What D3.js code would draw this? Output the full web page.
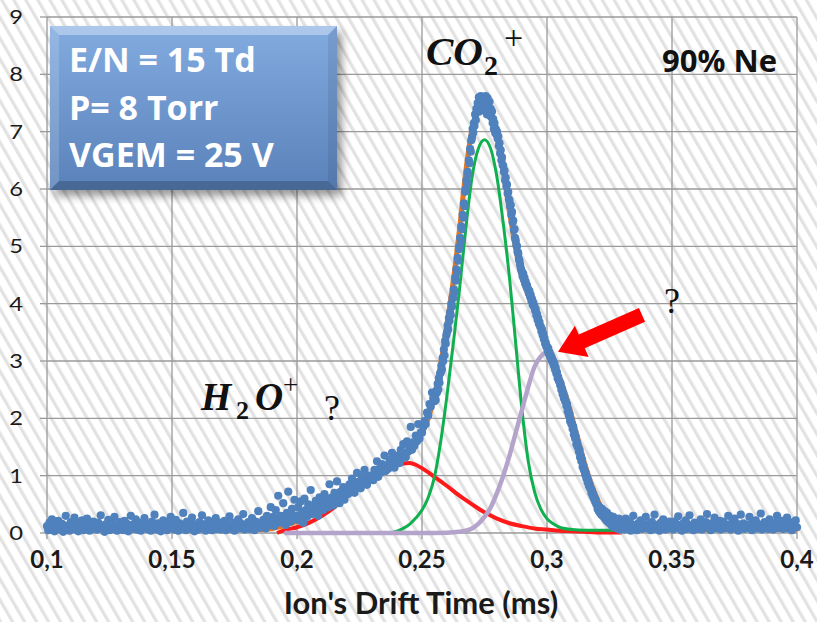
<!DOCTYPE html>
<html><head><meta charset="utf-8">
<script src="https://cdn.jsdelivr.net/npm/d3@7"></script>
<style>body{margin:0;background:#fff}svg{display:block}</style>
</head><body>
<svg id="c" width="817" height="622"></svg>
<script>
// ---------- data ----------
const xTicks = [0.1, 0.15, 0.2, 0.25, 0.3, 0.35, 0.4];
const xTickLabels = ["0,1", "0,15", "0,2", "0,25", "0,3", "0,35", "0,4"];
const yTicks = [0, 1, 2, 3, 4, 5, 6, 7, 8, 9];
const yTickLabels = ["0", "1", "2", "3", "4", "5", "6", "7", "8", "9"];

// measured points, in segments: [start x, step, values]
const blueBaseLeft = [
0.12,0.05,0.18,0.09,0.24,0.11,0.03,0.15,0.07,0.21,0.1,0.06,0.16,0.02,0.13,0.3,0.08,0.12,0.04,0.19,
0.09,0.14,0.27,0.06,0.11,0.03,0.17,0.1,0.22,0.05,0.13,0.08,0.25,0.12,0.04,0.16,0.07,0.2,0.1,0.14,
0.06,0.18,0.11,0.31,0.08,0.13,0.02,0.15,0.09,0.23,0.05,0.12,0.17,0.07,0.28,0.1,0.04,0.14,0.19,0.08,
0.13,0.05,0.21,0.1,0.16,0.03,0.12,0.3,0.07,0.15,0.09,0.24,0.06,0.11,0.18,0.04,0.14,0.08,0.26,0.1,
0.07,0.16,0.12,0.04,0.2,0.09,0.32,0.13,0.06,0.17,0.1,0.03,0.15,0.22,0.08,0.12,0.05,0.19,0.11,0.28,
0.09,0.14,0.06,0.23,0.11,0.04,0.17,0.08,0.13,0.35,0.1,0.05,0.2,0.12,0.07,0.16,0.27,0.09,0.03,0.15,
0.11,0.06,0.19,0.13,0.31,0.08,0.15,0.04,0.12,0.22,0.09,0.17,0.05,0.14,0.1,0.26,0.07,0.13,0.18,0.06,
0.14,0.09,0.21,0.05,0.16,0.11,0.29,0.07,0.13,0.18,0.04,0.15,0.1,0.24,0.08,0.17,0.12,0.33,0.06,0.14,
0.1,0.19,0.07,0.15,0.26,0.12,0.05,0.2,0.14,0.38,0.09,0.17,0.11,0.23,0.16,0.08,0.3,0.13,0.21,0.45];
const blueRise = [
0.15,0.28,0.12,0.4,0.22,0.65,0.18,0.3,0.2,0.52,0.25,0.14,0.35,0.72,0.27,0.2,0.42,0.3,0.58,0.24,
0.3,0.45,0.22,0.55,0.35,0.18,0.6,0.4,0.28,0.5,0.42,0.75,0.33,0.48,0.38,0.56,0.44,0.3,0.62,0.46,
0.52,0.4,0.68,0.5,0.6,0.45,0.85,0.55,0.62,0.48,0.7,0.58,0.9,0.6,0.52,0.72,0.64,0.8,0.58,0.7,
0.75,0.68,0.85,0.72,0.95,0.8,0.7,0.88,1.05,0.82,0.9,0.78,0.98,0.86,1.1,0.9,0.84,1.0,0.92,0.96,
1.0,0.92,1.1,1.02,1.25,0.98,1.12,1.05,1.2,1.1,1.35,1.08,1.18,1.12,1.28,1.15,1.4,1.2,1.14,1.3,
1.25,1.35,1.22,1.45,1.3,1.55,1.38,1.32,1.6,1.42,1.5,1.85,1.45,1.58,1.52,1.7,1.6,1.9,1.65,1.75,
1.75,1.85,1.95,1.9,2.1,2.05,2.25,2.2,2.45,2.35];
const bluePeak = [
2.3,2.38,2.32,2.48,2.45,2.6,2.5,2.7,2.62,2.78,
2.8,2.92,2.85,3.05,3.0,3.2,3.1,3.35,3.3,3.45,
3.5,3.62,3.55,3.75,3.7,3.85,3.8,4.0,3.95,4.1,
4.1,4.25,4.2,4.45,4.4,4.6,4.55,4.8,4.75,4.95,
5.0,5.15,5.1,5.35,5.3,5.55,5.5,5.75,5.7,5.95,
6.0,6.15,6.1,6.3,6.25,6.5,6.45,6.7,6.65,6.85,
6.9,7.05,6.98,7.15,7.1,7.3,7.2,7.4,7.35,7.5,
7.42,7.6,7.35,7.55,7.62,7.45,7.58,7.38,7.6,7.5,
7.55,7.4,7.62,7.48,7.3,7.58,7.45,7.35,7.52,7.28,
7.4,7.25,7.35,7.15,7.22,7.05,7.15,6.98,7.05,6.95,
7.0,6.88,6.92,6.75,6.8,6.62,6.68,6.5,6.55,6.42,
6.4,6.3,6.32,6.15,6.2,6.05,6.08,5.92,5.95,5.82,
5.8,5.7,5.72,5.55,5.6,5.42,5.45,5.28,5.3,5.15,
5.1,5.02,5.0,4.9,4.88,4.78,4.75,4.68,4.62,4.58,
4.55,4.48,4.52,4.42,4.45,4.35,4.38,4.3,4.32,4.25,
4.25,4.18,4.22,4.12,4.15,4.05,4.08,3.98,4.02,3.95,
3.95,3.88,3.9,3.8,3.82,3.72,3.75,3.65,3.68,3.6,
3.6,3.52,3.55,3.45,3.48,3.38,3.4,3.3,3.32,3.25,
3.25,3.18,3.22,3.12,3.15,3.08,3.1,3.02,3.05,2.98,
3.0,2.92,2.95,2.85,2.88,2.78,2.8,2.7,2.72,2.65,
2.65,2.58,2.6,2.5,2.52,2.42,2.45,2.35,2.38,2.3,
2.3,2.22,2.25,2.12,2.15,2.05,2.08,1.95,1.98,1.9,
1.9,1.82,1.85,1.72,1.75,1.65,1.68,1.55,1.58,1.5,
1.5,1.42,1.45,1.32,1.35,1.25,1.28,1.15,1.18,1.1,
1.1,1.02,1.05,0.95,0.98,0.88,0.92,0.82,0.85,0.78,
0.78,0.7,0.74,0.65,0.68,0.6,0.62,0.55,0.58,0.5,
0.5,0.42,0.48,0.38,0.45,0.35,0.4,0.32,0.42,0.3,
0.33,0.28,0.38,0.25,0.3,0.22,0.35,0.2,0.26,0.18,
0.22,0.3,0.15,0.25,0.12,0.2,0.28,0.1,0.18,0.14,
0.15,0.22,0.08,0.18,0.12,0.25,0.06,0.16,0.1,0.2];
const blueBaseRight = [
0.1,0.18,0.06,0.25,0.12,0.08,0.2,0.04,0.15,0.3,0.09,0.13,0.05,0.17,0.11,0.22,0.07,0.14,0.1,0.28,
0.08,0.15,0.12,0.05,0.19,0.1,0.32,0.07,0.14,0.11,0.04,0.18,0.09,0.24,0.13,0.06,0.16,0.1,0.2,0.08,
0.13,0.06,0.2,0.1,0.15,0.29,0.08,0.12,0.04,0.17,0.11,0.22,0.07,0.14,0.31,0.09,0.12,0.05,0.18,0.1,
0.07,0.16,0.11,0.24,0.06,0.13,0.09,0.19,0.33,0.1,0.14,0.05,0.17,0.12,0.27,0.08,0.15,0.11,0.21,0.06,
0.12,0.2,0.08,0.15,0.1,0.3,0.13,0.06,0.18,0.11,0.25,0.09,0.16,0.04,0.13,0.32,0.1,0.17,0.07,0.14,
0.09,0.14,0.28,0.1,0.05,0.17,0.12,0.22,0.08,0.15,0.11,0.34,0.06,0.13,0.19,0.1,0.16,0.07,0.24,0.12,
0.11,0.06,0.18,0.13,0.3,0.09,0.15,0.1,0.21,0.07,0.14,0.12,0.27,0.08,0.16,0.11,0.05,0.19,0.13,0.22,0.1];
const blueSegments = [
  {x0: 0.1, step: 0.0005, v: blueBaseLeft},
  {x0: 0.19, step: 0.0005, v: blueRise},
  {x0: 0.255, step: 0.00025, v: bluePeak},
  {x0: 0.33, step: 0.0005, v: blueBaseRight}];

// total fit (orange)
const fitX = [0.1,0.12,0.14,0.16,0.18,0.185,0.19,0.195,0.2,0.205,0.21,0.215,0.22,0.225,0.23,0.235,0.24,0.245,0.25,0.2525,0.255,0.2575,0.26,0.2625,0.265,0.2675,0.27,0.2725,0.275,0.2775,0.28,0.2825,0.285,0.2875,0.29,0.2925,0.295,0.2975,0.3,0.3025,0.305,0.3075,0.31,0.3125,0.315,0.3175,0.32,0.3225,0.325,0.3275,0.33,0.335,0.35,0.37,0.4];
const fitY = [0.06,0.06,0.06,0.06,0.06,0.06,0.08,0.13,0.2,0.3,0.42,0.56,0.72,0.86,1.0,1.12,1.25,1.42,1.75,2.0,2.4,2.95,3.65,4.4,5.3,6.3,7.05,7.35,7.45,7.3,6.9,6.3,5.6,4.95,4.45,4.15,3.88,3.58,3.25,3.02,2.72,2.4,2.02,1.62,1.22,0.88,0.6,0.38,0.22,0.12,0.07,0.06,0.06,0.06,0.06];

// H2O+ component (red)
const redX = [0.192,0.195,0.2,0.205,0.21,0.215,0.22,0.225,0.23,0.235,0.24,0.2425,0.245,0.2475,0.25,0.255,0.26,0.265,0.27,0.275,0.28,0.285,0.29,0.295,0.3,0.305,0.31,0.315,0.32,0.325,0.33];
const redY = [0.0,0.05,0.1,0.18,0.3,0.45,0.64,0.8,0.95,1.08,1.18,1.21,1.22,1.19,1.13,0.98,0.82,0.65,0.5,0.36,0.25,0.17,0.12,0.08,0.06,0.04,0.03,0.02,0.01,0.01,0.01];

// CO2+ component (green)
const greenX = [0.2375,0.24,0.2425,0.245,0.2475,0.25,0.2525,0.255,0.2575,0.26,0.2625,0.265,0.2675,0.27,0.2725,0.275,0.2775,0.28,0.2825,0.285,0.2875,0.29,0.2925,0.295,0.2975,0.3,0.3025,0.305,0.31,0.315,0.32,0.325,0.33];
const greenY = [0.0,0.03,0.08,0.15,0.26,0.4,0.62,0.98,1.6,2.4,3.3,4.25,5.3,6.2,6.7,6.86,6.7,6.2,5.4,4.45,3.3,2.15,1.25,0.72,0.42,0.25,0.16,0.1,0.06,0.05,0.05,0.05,0.05];

// unknown component (lavender)
const purpleX = [0.195,0.22,0.25,0.26,0.265,0.2675,0.27,0.2725,0.275,0.2775,0.28,0.2825,0.285,0.2875,0.29,0.2925,0.295,0.2975,0.3,0.3025,0.305,0.3075,0.31,0.3125,0.315,0.3175,0.32,0.3225,0.325,0.3275,0.33];
const purpleY = [0.0,0.0,0.0,0.005,0.02,0.04,0.08,0.16,0.28,0.45,0.7,1.0,1.35,1.75,2.15,2.55,2.9,3.08,3.15,2.98,2.6,2.25,1.86,1.48,1.08,0.76,0.5,0.3,0.15,0.06,0.02];

// ---------- layout ----------
const W = 817, H = 622;
const m = {left: 47, right: 797, top: 17, bottom: 533};
const x = d3.scaleLinear().domain([0.1, 0.4]).range([m.left, m.right]);
const y = d3.scaleLinear().domain([0, 9]).range([m.bottom, m.top]);

const svg = d3.select("#c");
const defs = svg.append("defs");

// diagonal hatch background
const pat = defs.append("pattern").attr("id", "hatch")
  .attr("patternUnits", "userSpaceOnUse").attr("width", 10.4).attr("height", 20)
  .attr("patternTransform", "rotate(-30)");
pat.append("rect").attr("width", 10.4).attr("height", 20).attr("fill", "#ffffff");
pat.append("rect").attr("x", 0).attr("width", 3.2).attr("height", 20).attr("fill", "#e2e2e2");
svg.append("rect").attr("width", W).attr("height", H).attr("fill", "url(#hatch)");

const sans = "Lato, 'Open Sans', 'DejaVu Sans', sans-serif";
const sans2 = "'Open Sans', Lato, 'DejaVu Sans', sans-serif";
const serif = "'Liberation Serif', 'DejaVu Serif', serif";

// grid
const g = svg.append("g");
g.selectAll("line.gx").data(xTicks).join("line").attr("class", "gx")
  .attr("x1", d => x(d)).attr("x2", d => x(d)).attr("y1", m.top).attr("y2", m.bottom)
  .attr("stroke", "#9a9a9a").attr("stroke-width", 1.3);
g.selectAll("line.gy").data(yTicks).join("line").attr("class", "gy")
  .attr("x1", m.left).attr("x2", m.right).attr("y1", d => y(d)).attr("y2", d => y(d))
  .attr("stroke", "#9a9a9a").attr("stroke-width", 1.3);
// tick marks
g.selectAll("line.tx").data(xTicks).join("line").attr("class", "tx")
  .attr("x1", d => x(d)).attr("x2", d => x(d)).attr("y1", m.bottom).attr("y2", m.bottom + 6)
  .attr("stroke", "#9a9a9a").attr("stroke-width", 1.3);
g.selectAll("line.ty").data(yTicks).join("line").attr("class", "ty")
  .attr("x1", m.left - 7).attr("x2", m.left).attr("y1", d => y(d)).attr("y2", d => y(d))
  .attr("stroke", "#9a9a9a").attr("stroke-width", 1.3);

// tick labels
g.selectAll("text.lx").data(xTicks).join("text").attr("class", "lx")
  .attr("x", d => x(d)).attr("y", 568).attr("text-anchor", "middle")
  .attr("font-family", sans).attr("font-weight", "bold").attr("font-size", 24).attr("fill", "#1a1a1a")
  .text((d, i) => xTickLabels[i]);
g.selectAll("text.ly").data(yTicks).join("text").attr("class", "ly")
  .attr("transform", d => `translate(23,${y(d) + 7}) scale(1.25,1)`).attr("text-anchor", "end")
  .attr("font-family", sans).attr("font-size", 19).attr("fill", "#1a1a1a")
  .text((d, i) => yTickLabels[i]);

// axis title
svg.append("text").attr("x", 421).attr("y", 614).attr("text-anchor", "middle")
  .attr("font-family", sans).attr("font-weight", "bold").attr("font-size", 31).attr("fill", "#1a1a1a")
  .text("Ion's Drift Time (ms)");

// curves
const line = d3.line().x(d => x(d[0])).y(d => y(d[1])).curve(d3.curveMonotoneX);
const zip = (a, b) => a.map((v, i) => [v, b[i]]);
svg.append("path").datum(zip(redX, redY)).attr("d", line)
  .attr("fill", "none").attr("stroke", "#ff1a1a").attr("stroke-width", 4).attr("stroke-linejoin", "round");
svg.append("path").datum(zip(greenX, greenY)).attr("d", line)
  .attr("fill", "none").attr("stroke", "#10b050").attr("stroke-width", 3).attr("stroke-linejoin", "round");
svg.append("path").datum(zip(purpleX, purpleY)).attr("d", line)
  .attr("fill", "none").attr("stroke", "#b4a4cc").attr("stroke-width", 4.5).attr("stroke-linejoin", "round");
svg.append("path").datum(zip(fitX, fitY)).attr("d", line)
  .attr("fill", "none").attr("stroke", "#e8761e").attr("stroke-width", 5).attr("stroke-linejoin", "round");

// measured points
const bluePts = blueSegments.flatMap(s => s.v.map((v, i) => [s.x0 + i * s.step, v]));
svg.append("g").selectAll("circle").data(bluePts).join("circle")
  .attr("cx", d => x(d[0])).attr("cy", d => y(d[1])).attr("r", 4.1)
  .attr("fill", "#4f81bd");

// info box
const bx = 50, by = 26, bw = 287, bh = 164, bv = 9;
const sh = defs.append("filter").attr("id", "shadow").attr("x", "-20%").attr("y", "-20%").attr("width", "140%").attr("height", "140%");
sh.append("feGaussianBlur").attr("stdDeviation", 4);
const grad = defs.append("linearGradient").attr("id", "boxg").attr("x1", 0).attr("y1", 0).attr("x2", 0).attr("y2", 1);
grad.append("stop").attr("offset", 0).attr("stop-color", "#82abe0");
grad.append("stop").attr("offset", 1).attr("stop-color", "#5a82ba");
svg.append("rect").attr("x", bx + 5).attr("y", by + 6).attr("width", bw).attr("height", bh)
  .attr("fill", "#000").attr("opacity", 0.4).attr("filter", "url(#shadow)");
svg.append("rect").attr("x", bx).attr("y", by).attr("width", bw).attr("height", bh).attr("fill", "url(#boxg)");
const poly = (pts, fill) => svg.append("polygon").attr("points", pts.map(p => p.join(",")).join(" ")).attr("fill", fill);
poly([[bx, by], [bx + bw, by], [bx + bw - bv, by + bv], [bx + bv, by + bv]], "rgba(255,255,255,0.35)");
poly([[bx, by], [bx + bv, by + bv], [bx + bv, by + bh - bv], [bx, by + bh]], "rgba(255,255,255,0.15)");
poly([[bx + bw, by], [bx + bw, by + bh], [bx + bw - bv, by + bh - bv], [bx + bw - bv, by + bv]], "rgba(0,0,0,0.08)");
poly([[bx, by + bh], [bx + bw, by + bh], [bx + bw - bv, by + bh - bv], [bx + bv, by + bh - bv]], "rgba(0,0,0,0.2)");
const boxLines = ["E/N = 15 Td", "P= 8 Torr", "VGEM = 25 V"];
svg.selectAll("text.box").data(boxLines).join("text").attr("class", "box")
  .attr("x", 69).attr("y", (d, i) => 72 + i * 47.5)
  .attr("font-family", sans2).attr("font-weight", "bold").attr("font-size", 34).attr("fill", "#fff")
  .text(d => d);

// labels
svg.append("text").attr("x", 777).attr("y", 72).attr("text-anchor", "end")
  .attr("font-family", sans2).attr("font-weight", "bold").attr("font-size", 31).attr("fill", "#111")
  .text("90% Ne");

const mathT = (tx, ty, s, size, opts) => {
  const t = svg.append("text").attr("x", tx).attr("y", ty).attr("font-family", serif)
    .attr("font-size", size).attr("fill", "#111").text(s);
  if (opts.b) t.attr("font-weight", "bold");
  if (opts.i) t.attr("font-style", "italic");
  return t;
};
mathT(426, 65, "CO", 41, {b: 1, i: 1});
mathT(484, 75, "2", 28, {b: 1});
mathT(504, 49, "+", 34, {});
mathT(201, 410, "H", 39, {b: 1, i: 1});
mathT(236, 419, "2", 26, {b: 1});
mathT(255, 410, "O", 39, {b: 1, i: 1});
mathT(283, 394, "+", 27, {});
mathT(324, 420, "?", 36, {});
mathT(664, 313, "?", 36, {});

// arrow pointing at the lavender peak
const tip = [x(0.3044), y(3.16)];
const dir = [84, -37];
const L = Math.hypot(dir[0], dir[1]);
const u = [dir[0] / L, dir[1] / L], n = [-u[1], u[0]];
const headL = 26, headW = 17, shaftW = 7.5;
const at = (a, b) => [tip[0] + u[0] * a + n[0] * b, tip[1] + u[1] * a + n[1] * b];
poly([at(0, 0), at(headL, headW), at(headL, shaftW), at(L, shaftW), at(L, -shaftW), at(headL, -shaftW), at(headL, -headW)], "#ff0000");
</script>
</body></html>
